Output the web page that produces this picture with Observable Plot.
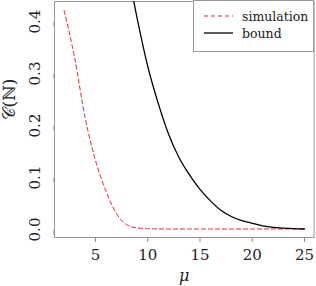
<!DOCTYPE html>
<html><head><meta charset="utf-8">
<script src="https://cdn.jsdelivr.net/npm/d3@7"></script>
<script src="https://cdn.jsdelivr.net/npm/@observablehq/plot@0.6"></script>
<style>
body{margin:0;background:#fff;}
#wrap{position:relative;width:316px;height:286px;overflow:hidden;}
#legend{position:absolute;left:193px;top:0px;}
</style></head><body><div id="wrap"></div>
<script>
const simMu = [2,3,4,5,6,7,8,9,10,11,12,13,14,15,16,17,18,19,20,21,22,23,24,25];
const simC  = [0.421,0.331,0.216,0.133,0.074,0.031,0.009,0.003,0.0016,0.0012,0.001,0.001,0.001,0.001,0.001,0.001,0.001,0.001,0.001,0.001,0.001,0.001,0.001,0.001];
const boundMu = [8,9,10,11,12,13,14,15,16,17,18,19,20,21,22,23,24,25];
const boundC  = [0.51,0.405,0.314,0.243,0.183,0.138,0.105,0.077,0.055,0.037,0.025,0.017,0.012,0.007,0.004,0.0025,0.0015,0.001];
const xTicks = [5,10,15,20,25];
const yTicks = [0.0,0.1,0.2,0.3,0.4];
const seriesNames = ["simulation","bound"];
const seriesColors = ["#e3232f","#000000"];
const xLabel = "μ";
const yLabel = "𝒞(ℕ)";

const sim = simMu.map((m,i)=>({mu:m, c:simC[i]}));
const bound = boundMu.map((m,i)=>({mu:m, c:boundC[i]}));

const serif = "DejaVu Serif";

const chart = Plot.plot({
  width: 316, height: 286,
  marginLeft: 54, marginRight: 2.4, marginTop: 1, marginBottom: 49,
  style: {fontFamily: serif, fontSize: "15px", color: "#222", background: "#fff"},
  x: {domain: [1.08, 25.92]},
  y: {domain: [-0.01538, 0.4385]},
  marks: [
    Plot.frame({stroke: "#999"}),
    Plot.axisX({ticks: xTicks, tickSize: 5, tickPadding: 7, label: null, stroke: "#888", fontSize: 15, fontFamily: serif}),
    Plot.axisY({ticks: yTicks, tickSize: 5, tickPadding: 10, tickFormat: d3.format(".1f"), label: null, stroke: "#888", fontSize: 15, fontFamily: serif, rotate: -90, textAnchor: "middle", lineAnchor: "bottom"}),
    Plot.line(sim, {x: "mu", y: "c", stroke: seriesColors[0], strokeWidth: 1, strokeDasharray: "4,3", curve: "monotone-x", clip: true}),
    Plot.line(bound, {x: "mu", y: "c", stroke: seriesColors[1], strokeWidth: 1.3, curve: "monotone-x", clip: true}),
    Plot.text([yLabel], {frameAnchor: "left", dx: -45, rotate: -90, text: d=>d, fontSize: 17, fill: "#222", fontFamily: serif}),
    Plot.text([xLabel], {frameAnchor: "bottom", lineAnchor: "middle", dy: 38, text: d=>d, fontSize: 16, fontStyle: "italic", fill: "#222", fontFamily: serif})
  ]
});
const wrap = document.getElementById("wrap");
wrap.appendChild(chart);

// legend
const lg = d3.select(wrap).append("svg").attr("id","legend").attr("width",121).attr("height",52);
lg.append("rect").attr("x",0.5).attr("y",0.5).attr("width",120).attr("height",51).attr("fill","#fff").attr("stroke","#999");
const dashes = ["4,3", null];
const widths = [1, 1.3];
seriesNames.forEach((n,i)=>{
  const y = 16 + i*17;
  const l = lg.append("line").attr("x1",11).attr("x2",40).attr("y1",y).attr("y2",y).attr("stroke",seriesColors[i]).attr("stroke-width",widths[i]);
  if (dashes[i]) l.attr("stroke-dasharray", dashes[i]);
  lg.append("text").attr("x",49).attr("y",y+5).style("font-family",serif).attr("font-size",12.5).attr("fill","#222").text(n);
});
</script></body></html>
